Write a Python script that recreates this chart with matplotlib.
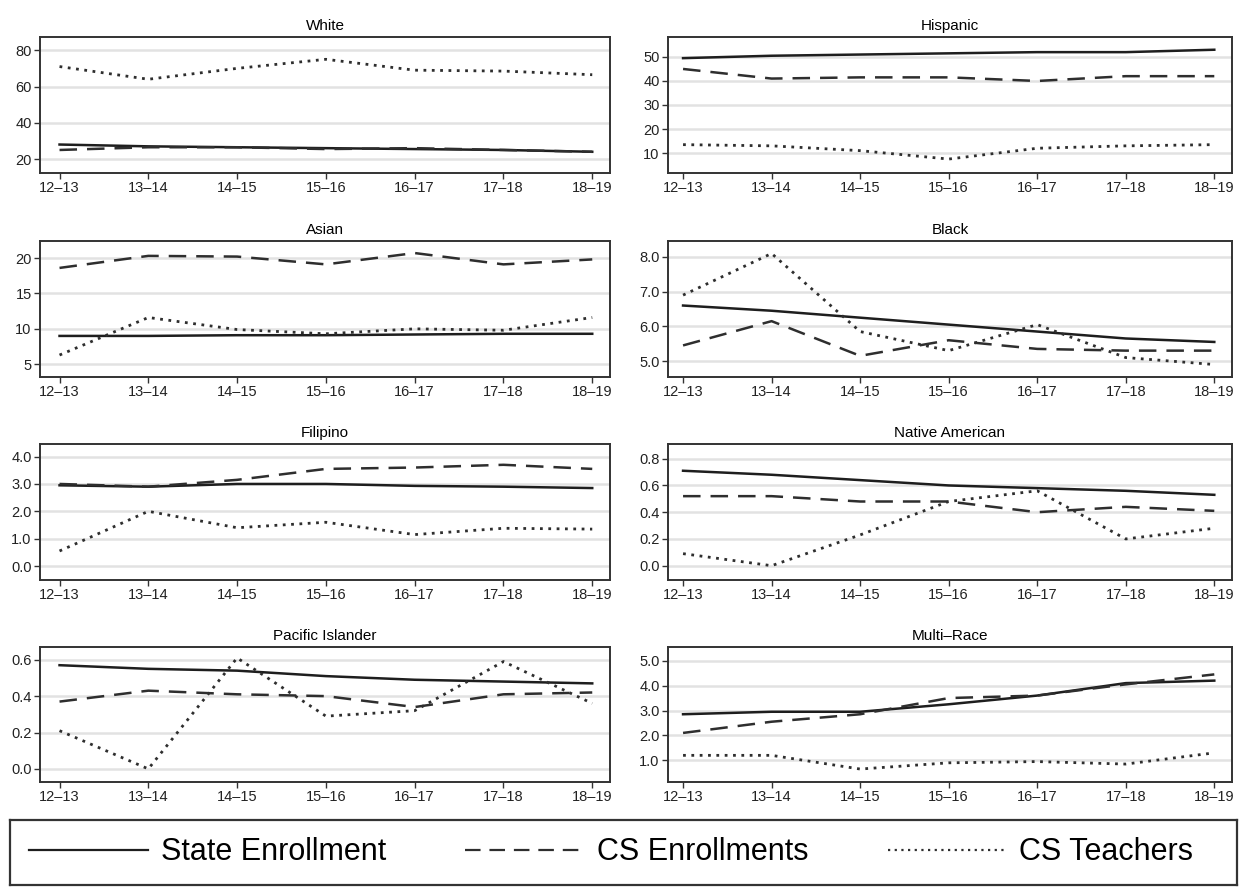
import numpy as np
import matplotlib.pyplot as plt

plt.rcParams['font.family'] = ['Liberation Sans', 'DejaVu Sans']

years = ['12–13', '13–14', '14–15', '15–16', '16–17', '17–18', '18–19']
groups = ['White', 'Hispanic', 'Asian', 'Black', 'Filipino', 'Native American',
          'Pacific Islander', 'Multi–Race']

# percentages per group: state enrollment, CS enrollments, CS teachers
state = {
    'White': [28, 27, 26.5, 26, 25.5, 25, 24],
    'Hispanic': [49.5, 50.5, 51, 51.5, 52, 52, 53],
    'Asian': [9.0, 9.0, 9.1, 9.1, 9.2, 9.3, 9.3],
    'Black': [6.6, 6.45, 6.25, 6.05, 5.85, 5.65, 5.55],
    'Filipino': [2.95, 2.9, 3.0, 3.0, 2.93, 2.9, 2.85],
    'Native American': [0.71, 0.68, 0.64, 0.60, 0.58, 0.56, 0.53],
    'Pacific Islander': [0.57, 0.55, 0.54, 0.51, 0.49, 0.48, 0.47],
    'Multi–Race': [2.85, 2.95, 2.95, 3.25, 3.6, 4.1, 4.2],
}
cs_enroll = {
    'White': [25, 26.5, 26.5, 25.5, 26, 25, 24],
    'Hispanic': [45, 41, 41.5, 41.5, 40, 42, 42],
    'Asian': [18.6, 20.3, 20.2, 19.1, 20.7, 19.1, 19.8],
    'Black': [5.45, 6.15, 5.15, 5.6, 5.35, 5.3, 5.3],
    'Filipino': [3.0, 2.9, 3.15, 3.55, 3.6, 3.7, 3.55],
    'Native American': [0.52, 0.52, 0.48, 0.48, 0.40, 0.44, 0.41],
    'Pacific Islander': [0.37, 0.43, 0.41, 0.40, 0.34, 0.41, 0.42],
    'Multi–Race': [2.1, 2.55, 2.85, 3.5, 3.6, 4.05, 4.45],
}
cs_teachers = {
    'White': [71, 64, 70, 75, 69, 68.5, 66.5],
    'Hispanic': [13.5, 13, 11, 7.5, 12, 13, 13.5],
    'Asian': [6.3, 11.6, 9.9, 9.3, 10.0, 9.8, 11.6],
    'Black': [6.9, 8.1, 5.85, 5.3, 6.05, 5.1, 4.9],
    'Filipino': [0.55, 2.0, 1.4, 1.6, 1.15, 1.38, 1.35],
    'Native American': [0.09, 0.0, 0.23, 0.48, 0.56, 0.20, 0.28],
    'Pacific Islander': [0.21, 0.0, 0.61, 0.29, 0.32, 0.59, 0.36],
    'Multi–Race': [1.2, 1.2, 0.65, 0.9, 0.95, 0.85, 1.3],
}

yticks = {
    'White': [20, 40, 60, 80],
    'Hispanic': [10, 20, 30, 40, 50],
    'Asian': [5, 10, 15, 20],
    'Black': [5.0, 6.0, 7.0, 8.0],
    'Filipino': [0.0, 1.0, 2.0, 3.0, 4.0],
    'Native American': [0.0, 0.2, 0.4, 0.6, 0.8],
    'Pacific Islander': [0.0, 0.2, 0.4, 0.6],
    'Multi–Race': [1.0, 2.0, 3.0, 4.0, 5.0],
}
ylims = {
    'White': (12.3, 87.3),
    'Hispanic': (1.7, 58.3),
    'Asian': (3.2, 22.4),
    'Black': (4.54, 8.46),
    'Filipino': (-0.51, 4.46),
    'Native American': (-0.107, 0.91),
    'Pacific Islander': (-0.072, 0.67),
    'Multi–Race': (0.13, 5.55),
}
yfmt = {
    'White': '{:.0f}', 'Hispanic': '{:.0f}', 'Asian': '{:.0f}',
    'Black': '{:.1f}', 'Filipino': '{:.1f}', 'Native American': '{:.1f}',
    'Pacific Islander': '{:.1f}', 'Multi–Race': '{:.1f}',
}

W, H = 1247, 890
fig = plt.figure(figsize=(W / 100, H / 100), dpi=100)

col_x = [(40, 610), (668, 1232)]
row_y = [(37, 173), (241, 377), (444, 580), (647, 782)]

x = np.arange(len(years))
handles = None
for i, g in enumerate(groups):
    r, c = divmod(i, 2)
    x0, x1 = col_x[c]
    y0, y1 = row_y[r]
    ax = fig.add_axes([x0 / W, 1 - y1 / H, (x1 - x0) / W, (y1 - y0) / H])
    for t in yticks[g]:
        ax.axhline(t, color='#e2e2e2', lw=1.8, zorder=0)
    l1, = ax.plot(x, state[g], color='#1e1e1e', lw=1.8, ls='-')
    l2, = ax.plot(x, cs_enroll[g], color='#2e2e2e', lw=1.8, ls=(0, (7, 4)))
    l3, = ax.plot(x, cs_teachers[g], color='#2e2e2e', lw=2.0, ls=(0, (1, 2.0)))
    handles = [l1, l2, l3]
    ax.set_xlim(-0.22 if c == 0 else -0.17, 6.2)
    ax.set_ylim(*ylims[g])
    ax.set_xticks(x)
    ax.set_xticklabels(years, fontsize=10.5)
    ax.set_yticks(yticks[g])
    ax.set_yticklabels([yfmt[g].format(t) for t in yticks[g]], fontsize=10.5)
    ax.tick_params(length=4, width=1, color='#333333', pad=2, labelcolor='#222222')
    for s in ax.spines.values():
        s.set_color('#333333')
        s.set_linewidth(1.4)
    ax.set_title(g, fontsize=11, pad=5)

leg_ax = fig.add_axes([10 / W, 1 - 885 / H, 1227 / W, 65 / H])
leg_ax.set_xticks([])
leg_ax.set_yticks([])
for s in leg_ax.spines.values():
    s.set_color('#333333')
    s.set_linewidth(1.6)
leg = leg_ax.legend(handles, ['State Enrollment', 'CS Enrollments', 'CS Teachers'],
                    loc='center', bbox_to_anchor=(0.49, 0.5), ncol=3, frameon=False,
                    handlelength=3.9, columnspacing=2.6, handletextpad=0.4,
                    prop={'size': 22})
for ln in leg.get_lines():
    ln.set_linewidth(1.6)

fig.savefig('out.png', dpi=100)
